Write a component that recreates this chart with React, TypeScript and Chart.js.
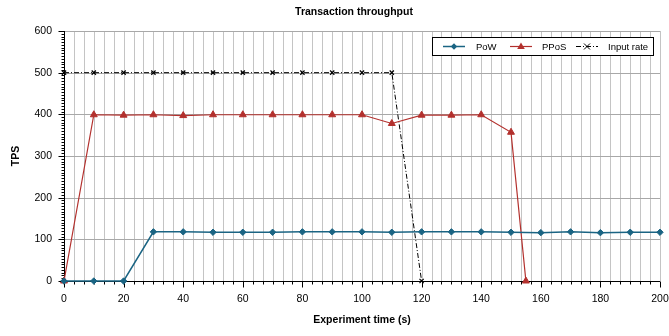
import React, { useEffect, useRef } from 'react';
import { Chart, registerables } from 'chart.js';

Chart.register(...registerables);

const chartTitle = 'Transaction throughput';
const xAxisTitle = 'Experiment time (s)';
const yAxisTitle = 'TPS';

const powTime = [0, 10, 20, 30, 40, 50, 60, 70, 80, 90, 100, 110, 120, 130, 140, 150, 160, 170, 180, 190, 200];
const powTps = [0, 0, 0, 118, 118, 117, 117, 117, 118, 118, 118, 117, 118, 118, 118, 117, 116, 118, 116, 117, 117];

const pposTime = [0, 10, 20, 30, 40, 50, 60, 70, 80, 90, 100, 110, 120, 130, 140, 150, 155];
const pposTps = [0, 399, 398, 399, 397, 399, 399, 399, 399, 399, 399, 378, 398, 398, 399, 357, 0];

const inputTime = [0, 10, 20, 30, 40, 50, 60, 70, 80, 90, 100, 110, 120];
const inputTps = [500, 500, 500, 500, 500, 500, 500, 500, 500, 500, 500, 500, 0];

const seriesNames = ['PoW', 'PPoS', 'Input rate'];
const seriesColors = ['#1a6483', '#b3302d', '#000000'];

const X_MIN = 0;
const X_MAX = 200;
const X_MAJOR = 20;
const X_MINOR = 20 / 6;
const Y_MIN = 0;
const Y_MAX = 600;
const Y_MAJOR = 100;
const Y_MINOR = 100 / 15;

const FONT = '"Liberation Sans", Arial, sans-serif';

function pts(xs: number[], ys: number[]) {
  return xs.map((x, i) => ({ x, y: ys[i] }));
}

function drawMarker(ctx: CanvasRenderingContext2D, style: string, cx: number, cy: number, r: number, color: string) {
  ctx.save();
  ctx.fillStyle = color;
  ctx.strokeStyle = color;
  ctx.lineWidth = 1;
  ctx.setLineDash([]);
  ctx.beginPath();
  if (style === 'rectRot') {
    ctx.moveTo(cx, cy - r);
    ctx.lineTo(cx + r, cy);
    ctx.lineTo(cx, cy + r);
    ctx.lineTo(cx - r, cy);
    ctx.closePath();
    ctx.fill();
  } else if (style === 'triangle') {
    ctx.moveTo(cx, cy - r);
    ctx.lineTo(cx + r * 0.95, cy + r * 0.6);
    ctx.lineTo(cx - r * 0.95, cy + r * 0.6);
    ctx.closePath();
    ctx.fill();
  } else {
    ctx.moveTo(cx - r, cy - r);
    ctx.lineTo(cx + r, cy + r);
    ctx.moveTo(cx + r, cy - r);
    ctx.lineTo(cx - r, cy + r);
    ctx.stroke();
  }
  ctx.restore();
}

const framePlugin = {
  id: 'frame',
  beforeDatasetsDraw(chart: any) {
    const ctx: CanvasRenderingContext2D = chart.ctx;
    const { left, right, top, bottom } = chart.chartArea;
    const xs = chart.scales.x;
    const ys = chart.scales.y;
    ctx.save();
    ctx.lineWidth = 1;
    // vertical minor grid
    ctx.strokeStyle = '#c4c4c4';
    const nx = Math.round((X_MAX - X_MIN) / X_MINOR);
    for (let i = 1; i <= nx; i++) {
      const px = Math.round(xs.getPixelForValue(X_MIN + i * X_MINOR)) + 0.5;
      ctx.beginPath();
      ctx.moveTo(px, top);
      ctx.lineTo(px, bottom);
      ctx.stroke();
    }
    // horizontal grid
    ctx.strokeStyle = '#a8a8a8';
    for (let v = Y_MIN + Y_MAJOR; v <= Y_MAX; v += Y_MAJOR) {
      const py = Math.round(ys.getPixelForValue(v)) + 0.5;
      ctx.beginPath();
      ctx.moveTo(left, py);
      ctx.lineTo(right, py);
      ctx.stroke();
    }
    // axes
    ctx.strokeStyle = '#000';
    const ax = Math.round(left) + 0.5;
    const ay = Math.round(bottom) + 0.5;
    ctx.beginPath();
    ctx.moveTo(ax, top);
    ctx.lineTo(ax, ay);
    ctx.lineTo(right, ay);
    ctx.stroke();
    // y ticks
    const ny = Math.round((Y_MAX - Y_MIN) / Y_MINOR);
    for (let i = 0; i <= ny; i++) {
      const py = Math.round(ys.getPixelForValue(Y_MIN + i * Y_MINOR)) + 0.5;
      const len = i % 15 === 0 ? 6 : 3;
      ctx.beginPath();
      ctx.moveTo(ax - len, py);
      ctx.lineTo(ax, py);
      ctx.stroke();
    }
    // x ticks
    for (let i = 0; i <= nx; i++) {
      const px = Math.round(xs.getPixelForValue(X_MIN + i * X_MINOR)) + 0.5;
      const len = i % 6 === 0 ? 6 : 3;
      ctx.beginPath();
      ctx.moveTo(px, ay);
      ctx.lineTo(px, ay + len);
      ctx.stroke();
    }
    ctx.restore();
  },
  afterDraw(chart: any) {
    const ctx: CanvasRenderingContext2D = chart.ctx;
    const { left, right, top, bottom } = chart.chartArea;
    ctx.save();
    ctx.fillStyle = '#000';
    ctx.textAlign = 'center';
    ctx.textBaseline = 'middle';
    ctx.font = `bold 10.5px ${FONT}`;
    ctx.fillText(chartTitle, 354, 12);
    ctx.fillText(xAxisTitle, (left + right) / 2, 320);
    ctx.save();
    ctx.translate(16, (top + bottom) / 2);
    ctx.rotate(-Math.PI / 2);
    ctx.fillText(yAxisTitle, 0, 0);
    ctx.restore();

    // legend
    const bx = 432.5, by = 37.5, bw = 221, bh = 18;
    ctx.fillStyle = '#fff';
    ctx.fillRect(bx, by, bw, bh);
    ctx.strokeStyle = '#000';
    ctx.lineWidth = 1;
    ctx.strokeRect(bx, by, bw, bh);
    const cy = by + bh / 2;
    const items = [
      { x0: 443, style: 'rectRot', r: 3.2, dash: [] as number[], tx: 476, w: 1.5 },
      { x0: 510, style: 'triangle', r: 4, dash: [] as number[], tx: 542, w: 1.2 },
      { x0: 576, style: 'crossRot', r: 3, dash: [5, 2, 1, 2], tx: 608, w: 1 },
    ];
    ctx.font = `9.5px ${FONT}`;
    ctx.textAlign = 'left';
    items.forEach((it, i) => {
      ctx.save();
      ctx.strokeStyle = seriesColors[i];
      ctx.lineWidth = it.w;
      ctx.setLineDash(it.dash);
      ctx.beginPath();
      ctx.moveTo(it.x0, cy);
      ctx.lineTo(it.x0 + 22, cy);
      ctx.stroke();
      ctx.restore();
      drawMarker(ctx, it.style, it.x0 + 11, cy, it.r, seriesColors[i]);
      ctx.fillStyle = '#000';
      ctx.fillText(seriesNames[i], it.tx, cy + 0.5);
    });
    ctx.restore();
  },
};

export default function App() {
  const ref = useRef<HTMLCanvasElement | null>(null);
  useEffect(() => {
    if (!ref.current) return;
    const chart = new Chart(ref.current, {
      type: 'line',
      data: {
        datasets: [
          {
            label: seriesNames[0],
            data: pts(powTime, powTps),
            borderColor: seriesColors[0],
            backgroundColor: seriesColors[0],
            borderWidth: 1.5,
            pointStyle: 'rectRot',
            pointRadius: 3.2,
            pointBorderWidth: 1,
            tension: 0,
            clip: false as any,
          },
          {
            label: seriesNames[1],
            data: pts(pposTime, pposTps),
            borderColor: seriesColors[1],
            backgroundColor: seriesColors[1],
            borderWidth: 1.2,
            pointStyle: 'triangle',
            pointRadius: 4,
            pointBorderWidth: 1,
            tension: 0,
            clip: false as any,
          },
          {
            label: seriesNames[2],
            data: pts(inputTime, inputTps),
            borderColor: seriesColors[2],
            backgroundColor: seriesColors[2],
            borderWidth: 1,
            borderDash: [5, 2, 1, 2],
            pointStyle: 'crossRot',
            pointRadius: 3,
            pointBorderWidth: 1.2,
            tension: 0,
            clip: false as any,
          },
        ],
      },
      options: {
        responsive: false,
        animation: false,
        devicePixelRatio: 1,
        layout: { padding: { top: 31, right: 9, left: 0, bottom: 0 } },
        plugins: {
          legend: { display: false },
          title: { display: false },
          tooltip: { enabled: false },
        },
        scales: {
          x: {
            type: 'linear',
            min: X_MIN,
            max: X_MAX,
            afterFit: (s: any) => { s.height = 55; s.paddingLeft = 0; s.paddingRight = 0; },
            ticks: {
              stepSize: X_MAJOR,
              color: '#000',
              font: { family: FONT, size: 10.5 },
              padding: 12,
              maxRotation: 0,
            },
            grid: { display: false, drawTicks: false },
            border: { display: false },
          },
          y: {
            min: Y_MIN,
            max: Y_MAX,
            afterFit: (s: any) => { s.width = 64; s.paddingTop = 0; s.paddingBottom = 0; },
            ticks: {
              stepSize: Y_MAJOR,
              color: '#000',
              font: { family: FONT, size: 10.5 },
              padding: 12,
            },
            grid: { display: false, drawTicks: false },
            border: { display: false },
          },
        },
      },
      plugins: [framePlugin],
    });
    return () => chart.destroy();
  }, []);
  return (
    <div style={{ position: 'absolute', left: 0, top: 0, width: 669, height: 336, background: '#fff' }}>
      <canvas ref={ref} width={669} height={336} />
    </div>
  );
}
